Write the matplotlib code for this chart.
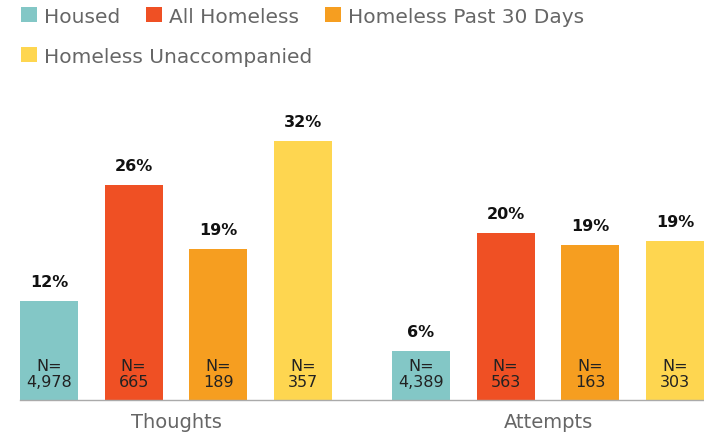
import matplotlib
matplotlib.use("Agg")
import matplotlib.pyplot as plt
from matplotlib.patches import Patch
import numpy as np

plt.rcParams['font.family'] = ['DejaVu Sans']

categories = ["Thoughts", "Attempts"]
series = ["Housed", "All Homeless", "Homeless Past 30 Days", "Homeless Unaccompanied"]
colors = ["#83C7C6", "#EF5024", "#F69E20", "#FED650"]
# values in percent, series x category
values = {
    "Housed": [12.14, 6.01],
    "All Homeless": [26.35, 20.47],
    "Homeless Past 30 Days": [18.51, 19.0],
    "Homeless Unaccompanied": [31.75, 19.49],
}
n_labels = {
    "Housed": ["4,978", "4,389"],
    "All Homeless": ["665", "563"],
    "Homeless Past 30 Days": ["189", "163"],
    "Homeless Unaccompanied": ["357", "303"],
}

W, H = 704, 435
fig = plt.figure(figsize=(W / 100, H / 100), dpi=100)
ax = fig.add_axes([20 / W, (H - 401) / H, 684 / W, 301 / H])

group_centers = np.array([0.0, 4.394])
offsets = np.array([-1.5, -0.5, 0.5, 1.5])
bw = 0.685

for i, s in enumerate(series):
    xs = group_centers + offsets[i]
    bars = ax.bar(xs, values[s], width=bw, color=colors[i], zorder=2)
    for x, v, n in zip(xs, values[s], n_labels[s]):
        ax.annotate(f"{round(v)}%", (x, v), xytext=(0, 8.6), textcoords="offset points",
                    ha="center", va="bottom", fontsize=11.5, fontweight="bold", color="#111111")
        ax.annotate(f"N=\n{n}", (x, 0), xytext=(0, 8), textcoords="offset points",
                    ha="center", va="bottom", fontsize=11.5, color="#222222",
                    linespacing=1.05, multialignment="center", zorder=3)

ax.set_xlim(-1.5 - bw / 2, group_centers[1] + 1.5 + bw / 2)
ax.set_ylim(0, 301 / 8.158)
ax.set_xticks(group_centers)
ax.set_xticklabels(categories, fontsize=14, color="#666666")
ax.tick_params(axis="x", length=0, pad=9)
ax.set_yticks([])
for sp in ["top", "right", "left"]:
    ax.spines[sp].set_visible(False)
ax.spines["bottom"].set_color("#AAAAAA")
ax.spines["bottom"].set_linewidth(1.0)

handles = [Patch(facecolor=c, edgecolor="none") for c in colors]
leg_kw = dict(frameon=False, fontsize=14.5, handlelength=0.77, handleheight=0.77,
              handletextpad=0.36, columnspacing=1.3, borderpad=0, borderaxespad=0,
              labelcolor="#666666", loc="upper left")
fig.legend(handles[:3], series[:3], ncol=3, bbox_to_anchor=(21 / W, 1 - 8 / H), **leg_kw)
fig.legend(handles[3:], series[3:], ncol=1, bbox_to_anchor=(21 / W, 1 - 48 / H), **leg_kw)

fig.savefig("out.png", dpi=100)
